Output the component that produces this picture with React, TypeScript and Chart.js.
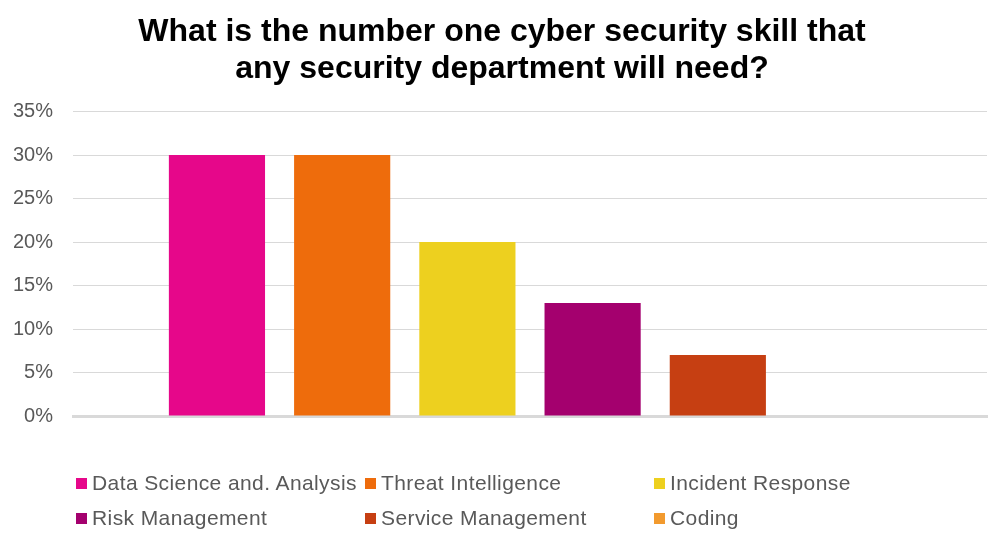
import React, { useEffect, useRef } from "react";
import { Chart, registerables } from "chart.js";

Chart.register(...registerables);

const titleLines = [
  "What is the number one cyber security skill that",
  "any security department will need?",
];
const categories = [""];
const seriesNames = [
  "Data Science and. Analysis",
  "Threat Intelligence",
  "Incident Response",
  "Risk Management",
  "Service Management",
  "Coding",
];
const seriesValues = [30, 30, 20, 13, 7, 0];
const seriesColors = ["#E6078A", "#EE6C0C", "#EDD01F", "#A4006E", "#C63F12", "#F29A2E"];
const yMax = 35;
const yStep = 5;

const FONT = "'Liberation Sans', Arial, sans-serif";

const titleShift = {
  id: "titleShift",
  afterLayout(chart: any) {
    if (chart.titleBlock) {
      chart.titleBlock.left = 17;
    }
  },
};

export default function App() {
  const ref = useRef<HTMLCanvasElement | null>(null);

  useEffect(() => {
    document.body.style.margin = "0";
    const canvas = ref.current;
    if (!canvas) return;
    const chart = new Chart(canvas, {
      type: "bar",
      data: {
        labels: categories,
        datasets: seriesNames.map((name, i) => ({
          label: name,
          data: [seriesValues[i]],
          backgroundColor: seriesColors[i],
          borderWidth: 0,
          categoryPercentage: 0.822,
          barPercentage: 0.768,
        })),
      },
      plugins: [titleShift],
      options: {
        animation: false,
        responsive: true,
        maintainAspectRatio: false,
        layout: { padding: { left: 0, right: 13, top: 0, bottom: 123 } },
        plugins: {
          legend: { display: false },
          tooltip: { enabled: false },
          title: {
            display: true,
            text: titleLines,
            color: "#000000",
            font: { family: FONT, size: 32, weight: "bold", lineHeight: 1.15 },
            padding: { top: 14, bottom: 24 },
          },
        },
        scales: {
          x: {
            ticks: { display: false },
            grid: { display: false, drawTicks: false },
            border: { display: true, color: "#D9D9D9", width: 3 },
          },
          y: {
            min: 0,
            max: yMax,
            ticks: {
              stepSize: yStep,
              padding: 20,
              color: "#595959",
              font: { family: FONT, size: 20 },
              callback: (v: any) => `${v}%`,
            },
            grid: { color: "#D9D9D9", lineWidth: 1, drawTicks: false },
            border: { display: false },
            afterFit: (scale: any) => {
              scale.width = 73;
            },
          },
        },
      },
    });
    return () => chart.destroy();
  }, []);

  const colX = [76, 365, 654];
  const rowY = [483, 518];

  return (
    <div style={{ position: "relative", width: 1000, height: 539, background: "#fff" }}>
      <canvas ref={ref} />
      {seriesNames.map((name, i) => {
        const col = i % 3;
        const row = Math.floor(i / 3);
        return (
          <div
            key={name}
            style={{
              position: "absolute",
              left: colX[col],
              top: rowY[row] - 12,
              height: 24,
              display: "flex",
              alignItems: "center",
              fontFamily: FONT,
              fontSize: 21,
              letterSpacing: "0.4px",
              color: "#595959",
              whiteSpace: "nowrap",
            }}
          >
            <span
              style={{
                display: "inline-block",
                width: 11,
                height: 11,
                background: seriesColors[i],
                marginRight: 5,
              }}
            />
            {name}
          </div>
        );
      })}
    </div>
  );
}
